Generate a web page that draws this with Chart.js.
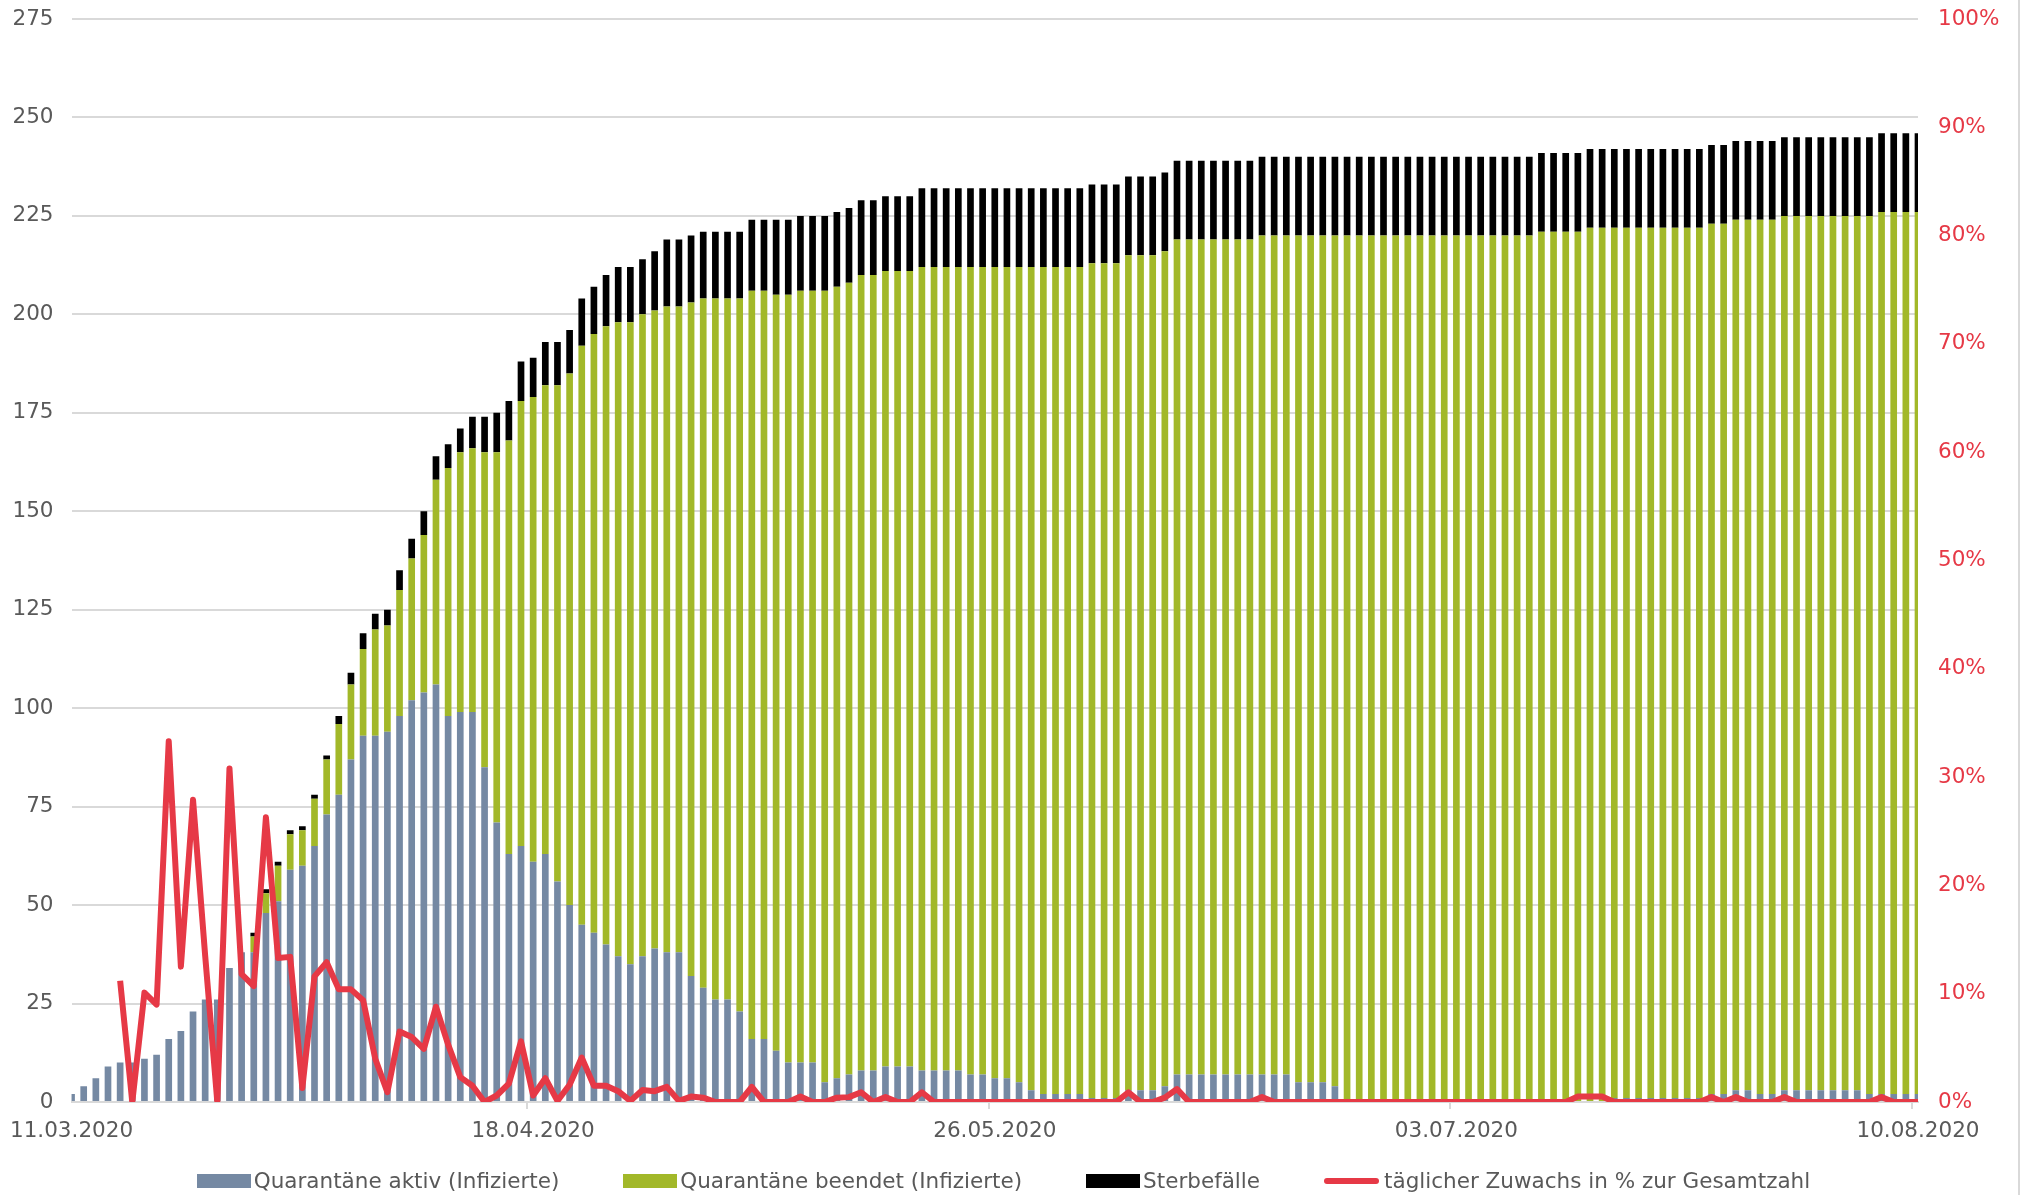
<!DOCTYPE html>
<html lang="de">
<head>
<meta charset="utf-8">
<title>Quarantäne</title>
<script src="https://cdn.jsdelivr.net/npm/chart.js@4.4.1/dist/chart.umd.min.js"></script>
<style>
    html, body { margin: 0; padding: 0; background: #fff; }
    #wrap { position: relative; width: 2026px; height: 1195px; overflow: hidden; }
    #chartBox { position: absolute; left: 0; top: 0; width: 2026px; height: 1195px; }
    #frameLine { position: absolute; left: 2018px; top: 0; width: 2px; height: 1195px; background: #d9d9d9; }
    #legend { position: absolute; left: 0; top: 1168px; width: 2007px; display: flex; justify-content: center; align-items: center; gap: 64px;
        font-family: 'DejaVu Sans', Verdana, sans-serif; font-size: 21.5px; line-height: 26px; color: #595959; }
    .item { display: flex; align-items: center; white-space: nowrap; }
    .box { width: 54px; height: 14px; margin-right: 3px; }
    .strich { width: 55px; height: 6px; border-radius: 3px; margin-right: 5px; }
</style>
</head>
<body>
<div id="wrap">
    <div id="chartBox"><canvas id="quarantaeneChart"></canvas></div>
    <div id="frameLine"></div>
    <div id="legend"></div>
</div>
<script>
// Quarantäne aktiv (Infizierte), ab 11.03.2020
const aktiv = [
    2, 4, 6, 9, 10, 10, 11, 12, 16, 18,
    23, 26, 26, 34, 38, 38, 48, 51, 59, 60,
    65, 73, 78, 87, 93, 93, 94, 98, 102, 104,
    106, 98, 99, 99, 85, 71, 63, 65, 61, 63,
    56, 50, 45, 43, 40, 37, 35, 37, 39, 38,
    38, 32, 29, 26, 26, 23, 16, 16, 13, 10,
    10, 10, 5, 6, 7, 8, 8, 9, 9, 9,
    8, 8, 8, 8, 7, 7, 6, 6, 5, 3,
    2, 2, 2, 2, 1, 1, 1, 3, 3, 3,
    4, 7, 7, 7, 7, 7, 7, 7, 7, 7,
    7, 5, 5, 5, 4, 0, 0, 0, 0, 0,
    0, 0, 0, 0, 0, 0, 0, 0, 0, 0,
    0, 0, 0, 0, 0, 0, 0, 1, 1, 1,
    1, 1, 1, 1, 1, 2, 2, 3, 3, 2,
    2, 3, 3, 3, 3, 3, 3, 3, 2, 2,
    2, 2, 2
];

// Quarantäne beendet (Infizierte)
const beendet = [
    0, 0, 0, 0, 0, 0, 0, 0, 0, 0,
    0, 0, 0, 0, 0, 4, 5, 9, 9, 9,
    12, 14, 18, 19, 22, 27, 27, 32, 36, 40,
    52, 63, 66, 67, 80, 94, 105, 113, 118, 119,
    126, 135, 147, 152, 157, 161, 163, 163, 162, 164,
    164, 171, 175, 178, 178, 181, 190, 190, 192, 195,
    196, 196, 201, 201, 201, 202, 202, 202, 202, 202,
    204, 204, 204, 204, 205, 205, 206, 206, 207, 209,
    210, 210, 210, 210, 212, 212, 212, 212, 212, 212,
    212, 212, 212, 212, 212, 212, 212, 212, 213, 213,
    213, 215, 215, 215, 216, 220, 220, 220, 220, 220,
    220, 220, 220, 220, 220, 220, 220, 220, 220, 220,
    220, 221, 221, 221, 221, 222, 222, 221, 221, 221,
    221, 221, 221, 221, 221, 221, 221, 221, 221, 222,
    222, 222, 222, 222, 222, 222, 222, 222, 223, 224,
    224, 224, 224
];

// Sterbefälle
const tote = [
    0, 0, 0, 0, 0, 0, 0, 0, 0, 0,
    0, 0, 0, 0, 0, 1, 1, 1, 1, 1,
    1, 1, 2, 3, 4, 4, 4, 5, 5, 6,
    6, 6, 6, 8, 9, 10, 10, 10, 10, 11,
    11, 11, 12, 12, 13, 14, 14, 14, 15, 17,
    17, 17, 17, 17, 17, 17, 18, 18, 19, 19,
    19, 19, 19, 19, 19, 19, 19, 19, 19, 19,
    20, 20, 20, 20, 20, 20, 20, 20, 20, 20,
    20, 20, 20, 20, 20, 20, 20, 20, 20, 20,
    20, 20, 20, 20, 20, 20, 20, 20, 20, 20,
    20, 20, 20, 20, 20, 20, 20, 20, 20, 20,
    20, 20, 20, 20, 20, 20, 20, 20, 20, 20,
    20, 20, 20, 20, 20, 20, 20, 20, 20, 20,
    20, 20, 20, 20, 20, 20, 20, 20, 20, 20,
    20, 20, 20, 20, 20, 20, 20, 20, 20, 20,
    20, 20, 20
];

// täglicher Zuwachs in % zur Gesamtzahl
const zuwachs = [
    null, null, null, null, 11.2, 0, 10.1, 9.0, 33.3, 12.5,
    27.9, 13.5, 0, 30.8, 11.8, 10.7, 26.3, 13.3, 13.4, 1.3,
    11.6, 12.9, 10.4, 10.4, 9.4, 4.0, 0.9, 6.5, 6.0, 4.9,
    8.8, 5.3, 2.3, 1.5, 0, 0.6, 1.7, 5.6, 0.6, 2.2,
    0.1, 1.6, 4.1, 1.5, 1.5, 1.0, 0.1, 1.1, 1.0, 1.4,
    0.1, 0.5, 0.4, 0, 0, 0, 1.4, 0, 0, 0,
    0.5, 0, 0, 0.4, 0.45, 0.9, 0, 0.45, 0, 0,
    0.9, 0, 0, 0, 0, 0, 0, 0, 0, 0,
    0, 0, 0, 0, 0, 0, 0, 0.9, 0, 0,
    0.4, 1.2, 0, 0, 0, 0, 0, 0, 0.45, 0,
    0, 0, 0, 0, 0, 0, 0, 0, 0, 0,
    0, 0, 0, 0, 0, 0, 0, 0, 0, 0,
    0, 0, 0, 0, 0.5, 0.5, 0.5, 0, 0, 0,
    0, 0, 0, 0, 0, 0.45, 0, 0.45, 0, 0,
    0, 0.45, 0, 0, 0, 0, 0, 0, 0, 0.45,
    0, 0, 0
];

const xTickLabels = ['11.03.2020', '18.04.2020', '26.05.2020', '03.07.2020', '10.08.2020'];
const leftTicks = { min: 0, max: 275, step: 25 };
const rightTicks = { min: 0, max: 100, step: 10 };

const BLAU = '#7589A3';
const GRUEN = '#A2B829';
const SCHWARZ = '#000000';
const ROT = '#E63946';
const GRID = '#D9D9D9';
const TEXT = '#595959';

// one label per day, 11.03.2020 - 10.08.2020
function buildDays(count) {
    const out = [];
    const start = Date.UTC(2020, 2, 11);
    for (let i = 0; i < count; i++) {
        const d = new Date(start + i * 86400000);
        const dd = String(d.getUTCDate()).padStart(2, '0');
        const mm = String(d.getUTCMonth() + 1).padStart(2, '0');
        out.push(dd + '.' + mm + '.' + d.getUTCFullYear());
    }
    return out;
}
const tage = buildDays(aktiv.length);

// keep the y axes from pushing the plot area down
function fitY(width) {
    return s => { s.width = width; s.paddingTop = 0; s.paddingBottom = 0; };
}

Chart.defaults.font.family = "'DejaVu Sans', Verdana, sans-serif";
Chart.defaults.font.size = 21.5;
Chart.defaults.color = TEXT;

const datasets = [
    { type: 'bar', label: 'Quarantäne aktiv (Infizierte)', data: aktiv, backgroundColor: BLAU, yAxisID: 'y', order: 1, barPercentage: 0.55, categoryPercentage: 1 },
    { type: 'bar', label: 'Quarantäne beendet (Infizierte)', data: beendet, backgroundColor: GRUEN, yAxisID: 'y', order: 1, barPercentage: 0.55, categoryPercentage: 1 },
    { type: 'bar', label: 'Sterbefälle', data: tote, backgroundColor: SCHWARZ, yAxisID: 'y', order: 1, barPercentage: 0.55, categoryPercentage: 1 },
    { type: 'line', label: 'täglicher Zuwachs in % zur Gesamtzahl', data: zuwachs, borderColor: ROT, backgroundColor: ROT, borderWidth: 6,
      pointRadius: 0, tension: 0, yAxisID: 'y1', order: 0, borderJoinStyle: 'round' }
];

const ctx = document.getElementById('quarantaeneChart').getContext('2d');
new Chart(ctx, {
    data: { labels: tage, datasets: datasets },
    options: {
        responsive: true, maintainAspectRatio: false, animation: false,
        layout: { padding: { top: 19, bottom: 43, left: 0, right: 0 } },
        plugins: { legend: { display: false }, tooltip: { enabled: false } },
        scales: {
            x: {
                stacked: true, offset: false,
                border: { display: true, color: GRID, width: 2 },
                grid: { drawOnChartArea: false, drawTicks: true, tickLength: 7, lineWidth: 2,
                        color: c => xTickLabels.includes(tage[c.index]) ? GRID : 'rgba(0,0,0,0)' },
                ticks: { autoSkip: false, maxRotation: 0, minRotation: 0, padding: 10, color: TEXT,
                         callback: (v, i) => xTickLabels.includes(tage[i]) ? tage[i] : '' },
                afterFit: s => { s.height = 50; }
            },
            y: {
                stacked: true, position: 'left', min: leftTicks.min, max: leftTicks.max,
                border: { display: false },
                grid: { color: GRID, lineWidth: 2, drawTicks: false },
                ticks: { stepSize: leftTicks.step, padding: 18, color: TEXT },
                afterFit: fitY(70)
            },
            y1: {
                position: 'right', min: rightTicks.min, max: rightTicks.max,
                border: { display: false },
                grid: { drawOnChartArea: false, drawTicks: false },
                ticks: { stepSize: rightTicks.step, padding: 20, color: ROT, callback: v => v + '%' },
                afterFit: fitY(108)
            }
        }
    }
});

// legend below the chart
const legend = document.getElementById('legend');
legend.innerHTML = datasets.map(d => {
    const cls = d.type === 'line' ? 'strich' : 'box';
    const col = d.type === 'line' ? d.borderColor : d.backgroundColor;
    return `<div class="item"><span class="${cls}" style="background:${col}"></span><span>${d.label}</span></div>`;
}).join('');
</script>
</body>
</html>
